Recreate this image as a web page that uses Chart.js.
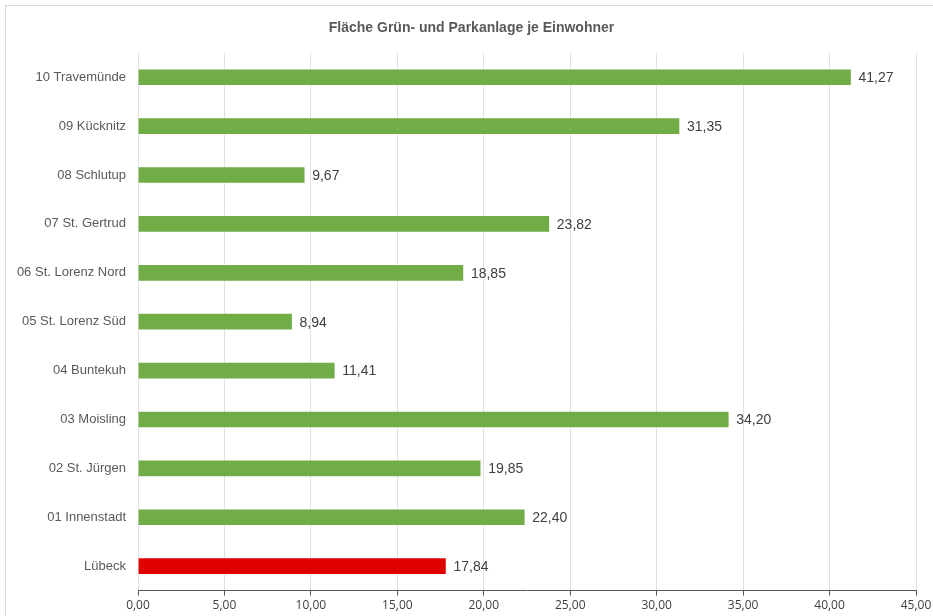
<!DOCTYPE html>
<html><head><meta charset="utf-8">
<script src="https://cdn.jsdelivr.net/npm/chart.js@4.4.0/dist/chart.umd.min.js"></script>
<style>
html,body{margin:0;padding:0;background:#fff;}
#wrap{position:relative;width:933px;height:616px;overflow:hidden;}
#frame{position:absolute;left:5px;top:5px;width:960px;height:640px;border:1px solid #d9d9d9;box-sizing:border-box;}
canvas{position:absolute;left:0;top:0;}
</style></head>
<body>
<div id="wrap"><div id="frame"></div><canvas id="c" width="933" height="616"></canvas></div>
<script>
const categories = ["10 Travemünde","09 Kücknitz","08 Schlutup","07 St. Gertrud","06 St. Lorenz Nord","05 St. Lorenz Süd","04 Buntekuh","03 Moisling","02 St. Jürgen","01 Innenstadt","Lübeck"];
const values = [41.27,31.35,9.67,23.82,18.85,8.94,11.41,34.20,19.85,22.40,17.84];
const barColors = ["#70AD47","#70AD47","#70AD47","#70AD47","#70AD47","#70AD47","#70AD47","#70AD47","#70AD47","#70AD47","#E00000"];
const xTicks = {min:0,max:45,step:5};
const titleText = "Fläche Grün- und Parkanlage je Einwohner";

const fmt = v => v.toFixed(2).replace('.', ',');

const valueLabels = {
  id:'valueLabels',
  afterDatasetsDraw(chart){
    const ctx = chart.ctx;
    const meta = chart.getDatasetMeta(0);
    ctx.save();
    ctx.font = '14px "Liberation Sans", Arial, sans-serif';
    ctx.fillStyle = '#404040';
    ctx.textAlign = 'left';
    ctx.textBaseline = 'middle';
    meta.data.forEach((el,i)=>{
      ctx.fillText(fmt(values[i]), el.x + 7, el.y + 1);
    });
    ctx.restore();
  }
};

new Chart(document.getElementById('c'), {
  type:'bar',
  data:{labels:categories,datasets:[{data:values,backgroundColor:barColors,borderColor:'rgba(255,255,255,0.35)',borderWidth:1,barThickness:17}]},
  options:{
    indexAxis:'y',
    responsive:false,
    animation:false,
    devicePixelRatio:1,
    layout:{padding:{top:20,left:10,right:0,bottom:0}},
    plugins:{
      legend:{display:false},
      tooltip:{enabled:false},
      title:{display:true,text:titleText,color:'#595959',font:{family:'"Liberation Sans", Arial, sans-serif',size:14,weight:'bold'},padding:{top:0,bottom:16}}
    },
    scales:{
      x:{
        min:xTicks.min,max:xTicks.max,
        ticks:{stepSize:xTicks.step,callback:v=>fmt(v),color:'#404040',font:{family:'"Open Sans", sans-serif',size:12},padding:3},
        grid:{color:'#e0e0e0',tickColor:'#595959',tickLength:5},
        border:{display:true,color:'#595959',width:1},
        afterFit(s){ s.paddingRight = 17; }
      },
      y:{
        ticks:{color:'#595959',font:{family:'"Liberation Sans", Arial, sans-serif',size:13},padding:12},
        grid:{display:false,drawTicks:false},
        border:{display:false},
        afterFit(s){ s.width = 128; }
      }
    }
  },
  plugins:[valueLabels]
});
</script>
</body></html>
